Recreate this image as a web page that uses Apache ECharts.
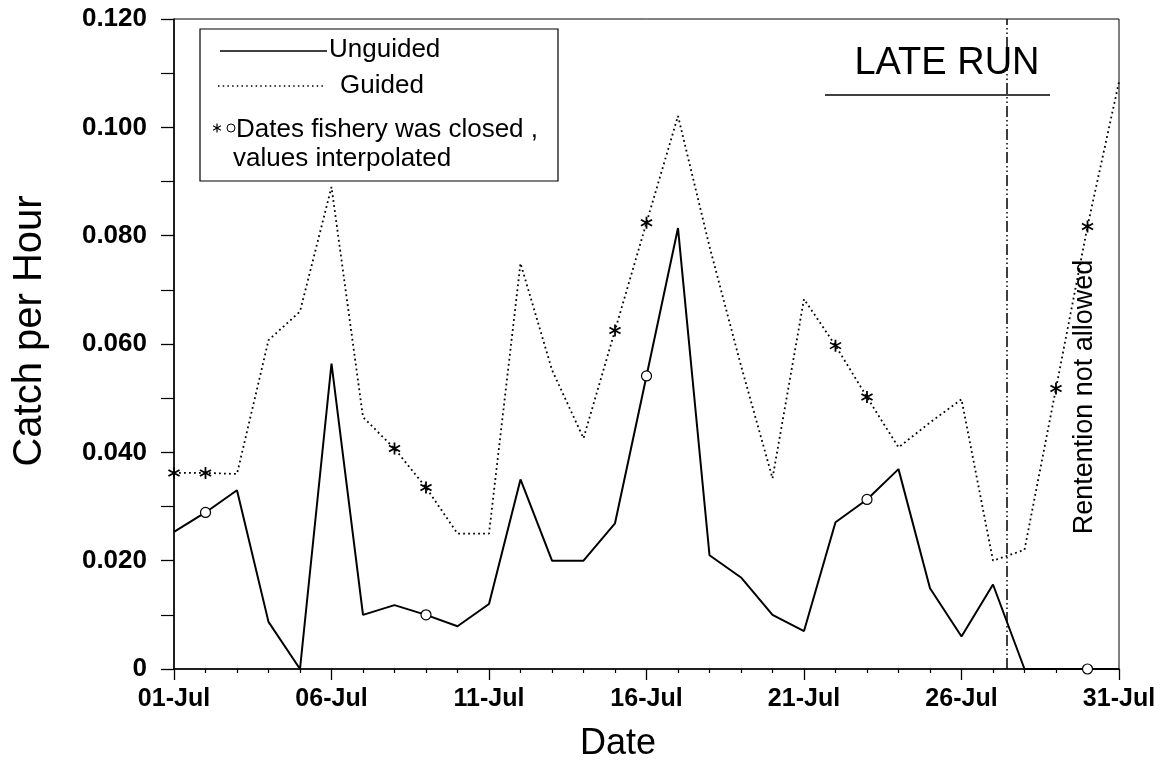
<!DOCTYPE html>
<html>
<head>
<meta charset="utf-8">
<script src="https://cdn.jsdelivr.net/npm/echarts@6/dist/echarts.min.js"></script>
<style>
  html, body { margin: 0; padding: 0; background: #fff; }
  #chart { width: 1165px; height: 764px; }
</style>
</head>
<body>
<div id="chart"></div>
<script>
// ---- Data (day offset 0 = 01-Jul ... 30 = 31-Jul) ----
const xTickLabels = ['01-Jul', '06-Jul', '11-Jul', '16-Jul', '21-Jul', '26-Jul', '31-Jul'];
const yTickLabels = ['0', '0.020', '0.040', '0.060', '0.080', '0.100', '0.120'];

const unguided = [0.0253, 0.0289, 0.0330, 0.0087, 0.0000, 0.0564, 0.0100, 0.0118, 0.0100, 0.0079,
                  0.0120, 0.0350, 0.0200, 0.0200, 0.0269, 0.0541, 0.0814, 0.0210, 0.0169, 0.0100,
                  0.0070, 0.0271, 0.0313, 0.0369, 0.0149, 0.0060, 0.0156, 0.0000, 0.0000, 0.0000, 0.0000];
const guided = [0.0362, 0.0362, 0.0360, 0.0607, 0.0660, 0.0890, 0.0465, 0.0407, 0.0335, 0.0250,
                0.0250, 0.0749, 0.0552, 0.0426, 0.0625, 0.0824, 0.1021, 0.0780, 0.0560, 0.0352,
                0.0683, 0.0597, 0.0502, 0.0409, 0.0455, 0.0498, 0.0200, 0.0220, 0.0518, 0.0817, 0.1084];

// closed-fishery (interpolated) days
const guidedClosedDays = [0, 1, 7, 8, 14, 15, 21, 22, 28, 29];
const unguidedClosedDays = [1, 8, 15, 22, 29];

// start of "retention not allowed" period (day offset)
const retentionStopDay = 26.43;

// ---- helpers ----
function asteriskArms(cx, cy, L, w) {
  const arms = [];
  for (const a of [90, 30, 150]) {
    const r = a * Math.PI / 180;
    const dx = Math.cos(r) * L / 2, dy = Math.sin(r) * L / 2;
    const nx = -Math.sin(r) * w / 2, ny = Math.cos(r) * w / 2;
    arms.push([[cx - dx + nx, cy - dy + ny], [cx + dx + nx, cy + dy + ny], [cx + dx - nx, cy + dy - ny], [cx - dx - nx, cy - dy - ny]]);
  }
  return arms;
}
const STAR = 'path://' + asteriskArms(0, 0, 10, 1.4)
  .map(pts => 'M' + pts.map(q => q[0].toFixed(3) + ' ' + q[1].toFixed(3)).join('L') + 'Z').join('');
const FONT = '"Liberation Sans", Arial, Helvetica, sans-serif';

const unguidedData = unguided.map((v, i) => {
  const closed = unguidedClosedDays.includes(i);
  return { value: [i, v], symbol: closed ? 'circle' : 'none', symbolSize: 10,
           itemStyle: { color: '#fff', borderColor: '#000', borderWidth: 1.2 } };
});
const guidedData = guided.map((v, i) => {
  const closed = guidedClosedDays.includes(i);
  return { value: [i, v], symbol: closed ? STAR : 'none', symbolSize: 12,
           itemStyle: { color: '#000', borderWidth: 0 } };
});

const chart = echarts.init(document.getElementById('chart'), null, { renderer: 'canvas' });

const GL = 174, GT = 19, GW = 945, GH = 650;

const legendStar = asteriskArms(217, 128, 9, 1.2).map(pts => ({
  type: 'polygon', z: 11, shape: { points: pts }, style: { fill: '#000' }
}));

chart.setOption({
  animation: false,
  backgroundColor: '#fff',
  grid: { left: GL, top: GT, width: GW, height: GH, show: true, borderColor: '#000', borderWidth: 1, backgroundColor: 'transparent' },
  xAxis: {
    type: 'value', min: 0, max: 30, interval: 5,
    axisLine: { show: true, lineStyle: { color: '#000', width: 1.5 } },
    axisTick: { show: true, length: 11, lineStyle: { color: '#000', width: 1.3 } },
    minorTick: { show: true, splitNumber: 5, length: 4, lineStyle: { color: '#000', width: 1.2 } },
    splitLine: { show: false }, minorSplitLine: { show: false },
    axisLabel: {
      margin: 18, color: '#000', fontSize: 25, fontWeight: 'bold', fontFamily: FONT,
      formatter: v => xTickLabels[Math.round(v / 5)] || ''
    }
  },
  yAxis: {
    type: 'value', min: 0, max: 0.12, interval: 0.02,
    axisLine: { show: true, lineStyle: { color: '#000', width: 1.5 } },
    axisTick: { show: true, length: 13, lineStyle: { color: '#000', width: 1.3 } },
    minorTick: { show: true, splitNumber: 2, length: 13, lineStyle: { color: '#000', width: 1.2 } },
    splitLine: { show: false }, minorSplitLine: { show: false },
    axisLabel: {
      margin: 27, color: '#000', fontSize: 26, fontWeight: 'bold', fontFamily: FONT,
      formatter: v => yTickLabels[Math.round(v / 0.02)] || ''
    }
  },
  series: [
    {
      name: 'Guided', type: 'line', data: guidedData, showSymbol: true, z: 3,
      lineStyle: { color: '#000', width: 1.8, type: [1.8, 3.2] },
      emphasis: { disabled: true },
      markLine: {
        silent: true, symbol: ['none', 'none'], label: { show: false },
        lineStyle: { color: '#000', width: 1.5, type: [11, 3, 1.5, 3, 1.5, 3] },
        emphasis: { disabled: true },
        data: [{ xAxis: retentionStopDay }]
      }
    },
    {
      name: 'Unguided', type: 'line', data: unguidedData, showSymbol: true, z: 4,
      lineStyle: { color: '#000', width: 2 },
      emphasis: { disabled: true }
    }
  ],
  graphic: [
    // axis titles
    { type: 'text', x: 30, y: 331, rotation: Math.PI / 2,
      style: { text: 'Catch per Hour', fontSize: 40, fontFamily: FONT, fill: '#000', align: 'center', verticalAlign: 'middle' } },
    { type: 'text', x: 618, y: 744,
      style: { text: 'Date', fontSize: 36, fontFamily: FONT, fill: '#000', align: 'center', verticalAlign: 'middle' } },
    // LATE RUN annotation
    { type: 'text', x: 947, y: 64,
      style: { text: 'LATE RUN', fontSize: 38, fontFamily: FONT, fill: '#000', align: 'center', verticalAlign: 'middle' } },
    { type: 'line', shape: { x1: 825, y1: 95, x2: 1050, y2: 95 }, style: { stroke: '#000', lineWidth: 1.5 } },
    { type: 'text', x: 1085, y: 397, rotation: Math.PI / 2,
      style: { text: 'Rentention not allowed', fontSize: 27, fontFamily: FONT, fill: '#000', align: 'center', verticalAlign: 'middle' } },
    // legend box
    { type: 'rect', shape: { x: 200, y: 29, width: 358, height: 152 }, style: { fill: '#fff', stroke: '#000', lineWidth: 1.2 }, z: 10 },
    { type: 'line', shape: { x1: 220, y1: 51, x2: 327, y2: 51 }, style: { stroke: '#000', lineWidth: 1.5 }, z: 11 },
    { type: 'text', x: 329, y: 50, z: 11,
      style: { text: 'Unguided', fontSize: 26, fontFamily: FONT, fill: '#000', align: 'left', verticalAlign: 'middle' } },
    { type: 'line', shape: { x1: 218, y1: 86, x2: 323, y2: 86 }, style: { stroke: '#000', lineWidth: 1.5, lineDash: [1.5, 3.2] }, z: 11 },
    { type: 'text', x: 340, y: 86, z: 11,
      style: { text: 'Guided', fontSize: 26, fontFamily: FONT, fill: '#000', align: 'left', verticalAlign: 'middle' } },
    ...legendStar,
    { type: 'circle', z: 11, shape: { cx: 231, cy: 128, r: 4 }, style: { fill: '#fff', stroke: '#000', lineWidth: 1 } },
    { type: 'text', x: 236, y: 129.5, z: 11,
      style: { text: 'Dates fishery was closed ,', fontSize: 26, fontFamily: FONT, fill: '#000', align: 'left', verticalAlign: 'middle' } },
    { type: 'text', x: 233, y: 159, z: 11,
      style: { text: 'values interpolated', fontSize: 26, fontFamily: FONT, fill: '#000', align: 'left', verticalAlign: 'middle' } }
  ]
});
</script>
</body>
</html>
